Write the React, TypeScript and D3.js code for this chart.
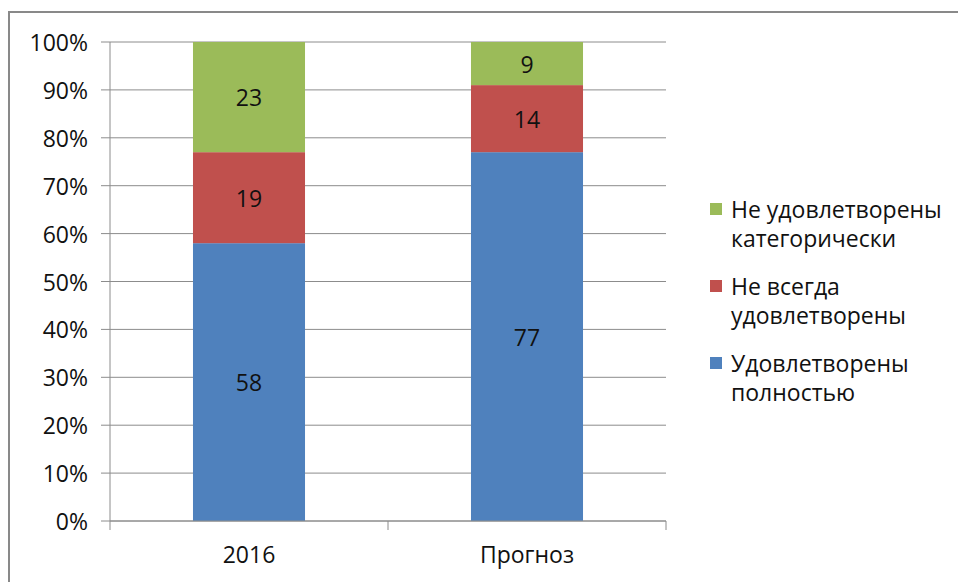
import * as d3 from "d3";

const categories = ["2016", "Прогноз"];
const seriesNames = [
  "Удовлетворены полностью",
  "Не всегда удовлетворены",
  "Не удовлетворены категорически",
];
const fullySatisfied = [58, 77];
const notAlways = [19, 14];
const notAtAll = [23, 9];
const yTicks = [0, 10, 20, 30, 40, 50, 60, 70, 80, 90, 100];

const colors = ["#4F81BD", "#C0504D", "#9BBB59"];
// legend lines, top to bottom (reverse series order)
const legendLines = [
  ["Не удовлетворены", "категорически"],
  ["Не всегда", "удовлетворены"],
  ["Удовлетворены", "полностью"],
];

const font = "'Open Sans', sans-serif";
const fs = 23;

export default function App() {
  const width = 958;
  const height = 582;
  const plot = { left: 110, right: 666, top: 42, bottom: 521 };

  const rows = categories.map((c, i) => ({
    category: c,
    s0: fullySatisfied[i],
    s1: notAlways[i],
    s2: notAtAll[i],
  }));
  const stack = d3.stack<any>().keys(["s0", "s1", "s2"]);
  const series = stack(rows);

  const band = d3.scaleBand().domain(categories).range([plot.left, plot.right]);
  const barW = band.bandwidth() * 0.403;
  const barX = (c: string) => (band(c) || 0) + (band.bandwidth() - barW) / 2;
  const y = d3.scaleLinear().domain([0, 100]).range([plot.bottom, plot.top]);

  return (
    <svg
      width={width}
      height={height}
      style={{ position: "absolute", left: 0, top: 0, background: "#fff" }}
      fontFamily={font}
    >
      {/* outer frame */}
      <rect x={9} y={12} width={1000} height={700} fill="none" stroke="#898989" strokeWidth={2} />

      {/* gridlines + y ticks */}
      {yTicks.map((t) => (
        <g key={t}>
          <line x1={plot.left - 9} x2={plot.right} y1={y(t)} y2={y(t)} stroke="#8c8c8c" strokeWidth={1} />
          <text
            x={88}
            y={y(t)}
            textAnchor="end"
            dominantBaseline="central"
            fontSize={fs}
            fill="#111"
          >
            {t}%
          </text>
        </g>
      ))}

      {/* y axis */}
      <line x1={plot.left} x2={plot.left} y1={plot.top} y2={plot.bottom} stroke="#8c8c8c" />

      {/* bars */}
      {series.map((s, si) =>
        s.map((d, i) => {
          const cx = barX(categories[i]);
          return (
            <g key={`${si}-${i}`}>
              <rect
                x={cx}
                y={y(d[1])}
                width={barW}
                height={y(d[0]) - y(d[1])}
                fill={colors[si]}
              />
              <text
                x={cx + barW / 2}
                y={(y(d[0]) + y(d[1])) / 2}
                textAnchor="middle"
                dominantBaseline="central"
                fontSize={fs}
                fill="#111"
              >
                {d[1] - d[0]}
              </text>
            </g>
          );
        })
      )}

      {/* x axis */}
      <line x1={plot.left} x2={plot.right} y1={plot.bottom} y2={plot.bottom} stroke="#8c8c8c" />
      {[plot.left, ...categories.map((c) => (band(c) || 0) + band.bandwidth())].map((tx) => (
        <line key={tx} x1={tx} x2={tx} y1={plot.bottom} y2={plot.bottom + 9} stroke="#8c8c8c" />
      ))}
      {categories.map((c) => (
        <text
          key={c}
          x={(band(c) || 0) + band.bandwidth() / 2}
          y={554}
          textAnchor="middle"
          dominantBaseline="central"
          fontSize={fs}
          fill="#111"
        >
          {c}
        </text>
      ))}

      {/* legend */}
      {legendLines.map((lines, li) => {
        const top = 209 + li * 77;
        const si = seriesNames.length - 1 - li;
        return (
          <g key={li}>
            <rect x={710} y={top - 6} width={12} height={12} fill={colors[si]} />
            {lines.map((l, k) => (
              <text
                key={k}
                x={731}
                y={top + k * 29}
                dominantBaseline="central"
                fontSize={fs}
                fill="#111"
              >
                {l}
              </text>
            ))}
          </g>
        );
      })}
    </svg>
  );
}
